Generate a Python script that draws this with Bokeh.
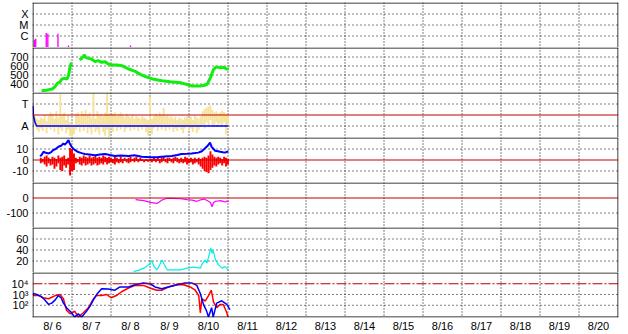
from bokeh.plotting import figure
from bokeh.layouts import column
from bokeh.models import Range1d, FixedTicker, Span
from bokeh.embed import file_html
from bokeh.resources import INLINE

nan = float("nan")

# ---------------- data (time = days since 8/6 00:00) ----------------
date_labels = ["8/ 6", "8/ 7", "8/ 8", "8/ 9", "8/10", "8/11", "8/12", "8/13",
               "8/14", "8/15", "8/16", "8/17", "8/18", "8/19", "8/20"]

# panel 1: X-ray flares
xray_ticks = [1e-6, 1e-5, 1e-4]
xray_labels = ["C", "M", "X"]
flare_t = [0.04, 0.07, 0.34, 0.38, 0.64, 0.91, 2.50]
flare_flux = [4.5e-7, 5.5e-7, 1.9e-6, 1.6e-6, 1.6e-6, 1.4e-7, 1.4e-7]

# panel 2: solar wind speed
speed_ticks = [400, 500, 600, 700]
speed_labels = ["400", "500", "600", "700"]
sp_t = [0.22, 0.35, 0.44, 0.50, 0.57, 0.63, 0.69, 0.74, 0.81, 0.87,
        0.91, 0.94, 0.97, 1.00, 1.10, 1.19, 1.25, 1.32, 1.35, 1.42,
        1.50, 1.59, 1.67, 1.76, 1.85, 1.93, 2.02, 2.15, 2.28, 2.45,
        2.62, 2.75, 2.90, 3.10, 3.30, 3.52, 3.78, 3.95, 4.08, 4.29,
        4.40, 4.46, 4.55, 4.60, 4.63, 4.70, 4.80, 4.90, 4.95, 5.02]
sp_v = [326, 330, 340, 345, 374, 411, 422, 455, 463, 455,
        492, 567, 622, 633, nan, 670, 685, 722, 696, 685,
        678, 648, 659, 641, 648, 622, 611, 611, 604, 567,
        541, 507, 480, 452, 437, 426, 415, 395, 378, 378,
        385, 396, 470, 530, 563, 590, 581, 585, 570, 563]

# panel 3: IMF direction (T / A)
phi_ticks = [90, 270]
phi_labels = ["A", "T"]
phi_t = [0.05, 0.10, 0.15, 0.20, 0.25, 0.30, 0.35, 0.40, 0.45, 0.50,
         0.55, 0.60, 0.65, 0.70, 0.75, 0.80, 0.85, 0.90, 0.95, 1.00,
         1.05, 1.10, 1.15, 1.20, 1.25, 1.30, 1.35, 1.40, 1.45, 1.50,
         1.55, 1.60, 1.65, 1.70, 1.75, 1.80, 1.85, 1.90, 1.95, 2.00,
         2.05, 2.10, 2.15, 2.20, 2.25, 2.30, 2.35, 2.40, 2.45, 2.50,
         2.55, 2.60, 2.65, 2.70, 2.75, 2.80, 2.85, 2.90, 2.95, 3.00,
         3.05, 3.10, 3.15, 3.20, 3.25, 3.30, 3.35, 3.40, 3.45, 3.50,
         3.55, 3.60, 3.65, 3.70, 3.75, 3.80, 3.85, 3.90, 3.95, 4.00,
         4.05, 4.10, 4.15, 4.20, 4.25, 4.30, 4.35, 4.40, 4.45, 4.50,
         4.55, 4.60, 4.65, 4.70, 4.75, 4.80, 4.85, 4.90, 4.95, 5.00]
phi_lo = [100, 60, 40, 70, 50, 90, 30, 80, 60, 100,
          40, 90, 20, 70, 50, 90, 30, 60, 10, 5,
          20, 60, 90, 40, 80, 50, 100, 30, 70, 20,
          90, 40, 60, 20, 80, 40, 10, 60, 0, 70,
          40, 90, 50, 80, 60, 100, 40, 70, 90, 50,
          80, 60, 90, 50, 80, 60, 90, 40, 10, 60,
          20, 70, 90, 50, 80, 60, 90, 50, 80, 60,
          90, 40, 70, 50, 80, 60, 30, 70, 90, 50,
          70, 40, 80, 30, 60, 90, 100, 70, 120, 90,
          140, 100, 80, 120, 100, 110, 90, 120, 20, 100]
phi_hi = [170, 150, 140, 160, 150, 180, 130, 175, 200, 190,
          150, 210, 160, 350, 170, 200, 140, 180, 120, 110,
          100, 190, 200, 170, 210, 190, 220, 180, 200, 160,
          360, 150, 210, 180, 190, 170, 200, 360, 190, 180,
          190, 200, 170, 185, 200, 180, 160, 190, 170, 160,
          180, 150, 170, 160, 150, 170, 160, 150, 140, 330,
          150, 170, 190, 175, 200, 180, 240, 170, 180, 160,
          170, 150, 165, 140, 160, 150, 140, 160, 170, 150,
          165, 140, 175, 160, 150, 170, 210, 230, 240, 250,
          260, 220, 200, 210, 190, 200, 215, 205, 190, 180]
dir_t = [0.00, 0.01, 0.05, 0.09, 5.00]
dir_v = [256, 176, 123, 90, 90]
sector_line = 180

# panel 4: Bt (blue) and Bz (red), nT
bfield_ticks = [-10, 0, 10]
bfield_labels = ["-10", "0", "10"]
bt_t = [0.18, 0.22, 0.27, 0.33, 0.40, 0.46, 0.52, 0.58, 0.65, 0.72,
        0.78, 0.82, 0.87, 0.91, 0.93, 0.95, 0.99, 1.04, 1.08, 1.14,
        1.21, 1.27, 1.33, 1.45, 1.59, 1.72, 1.85, 1.97, 2.10, 2.25,
        2.45, 2.60, 2.79, 2.90, 3.04, 3.17, 3.30, 3.45, 3.56, 3.70,
        3.81, 3.95, 4.07, 4.15, 4.24, 4.33, 4.41, 4.48, 4.54, 4.58,
        4.63, 4.67, 4.74, 4.80, 4.87, 4.93, 4.97, 5.01]
bt_v = [3.5, 4.5, 7.5, 6.5, 6, 7, 9, 10, 12, 13,
        15, 14, 16, 18, 16, 14.6, 12, 10, 9, 7.5,
        6.7, 6, 5.5, 5, 4.4, 5, 5.5, 4.5, 3.7, 4,
        3.7, 4.4, 3, 2.8, 2.4, 2.6, 3, 3.4, 3.7, 4.5,
        5.5, 5.7, 6, 6.3, 6.7, 8, 10.6, 13, 15.7, 12,
        10, 8.4, 8, 7.5, 7, 6.7, 7.5, 7.5]
bz_t = [0.20, 0.25, 0.30, 0.35, 0.40, 0.45, 0.50, 0.55, 0.60, 0.65,
        0.70, 0.75, 0.80, 0.85, 0.90, 0.95, 1.00, 1.05, 1.10, 1.15,
        1.20, 1.25, 1.30, 1.35, 1.40, 1.45, 1.50, 1.55, 1.60, 1.65,
        1.70, 1.75, 1.80, 1.85, 1.90, 1.95, 2.00, 2.05, 2.10, 2.15,
        2.20, 2.25, 2.30, 2.35, 2.40, 2.45, 2.50, 2.55, 2.60, 2.65,
        2.70, 2.75, 2.80, 2.85, 2.90, 2.95, 3.00, 3.05, 3.10, 3.15,
        3.20, 3.25, 3.30, 3.35, 3.40, 3.45, 3.50, 3.55, 3.60, 3.65,
        3.70, 3.75, 3.80, 3.85, 3.90, 3.95, 4.00, 4.05, 4.10, 4.15,
        4.20, 4.25, 4.30, 4.35, 4.40, 4.45, 4.50, 4.55, 4.60, 4.65,
        4.70, 4.75, 4.80, 4.85, 4.90, 4.95, 5.00]
bz_lo = [-3, -2, -4, -6, -3, -5, -4, -8, -6, -3,
         -9, -10, -5, -7, -4, -14, -10, -9, -3, -2,
         -4, -5, -3, -5, -4, -3, -5, -4, -3, -5,
         -4, -3, -4, -2, -4, -3, -2, -3, -4, -2,
         -3, -2, -3, -1, -2, -3, -2, -1, -2, -1,
         -2, -1, -1, -2, -1, -1.5, -1, -2, -1, -2,
         -1, -3, -2, -1, -2, -3, -1, -2, -3, -1,
         -2, -3, -2, -3, -2, -4, -3, -2, -4, -3,
         -2, -4, -6, -8, -10, -11, -12, -9, -7, -5,
         -6, -4, -3, -5, -3, -6, -4]
bz_hi = [2, 1, 3, 4, 2, 1, 3, 2, 1, 4,
         2, 3, 4, 1, 2, 11, 10, 6, 2, 1,
         3, 2, 4, 3, 2, 4, 2, 3, 4, 2,
         3, 2, 4, 3, 2, 3, 2, 1, 3, 2,
         1, 3, 1, 2, 1, 2, 3, 1, 2, 3,
         1, 2, 1, 0.5, 1, 0.5, 1, 1, 2, 1,
         2, 1, 2, 3, 1, 2, 2, 1, 2, 3,
         2, 1, 2, 1, 3, 2, 1, 2, 1, 2,
         1, 2, 1, 2, 3, 2, 4, 8, 5, 3,
         2, 3, 2, 1, 3, 2, 1]

# panel 5: Dst (nT)
dst_ticks = [-100, 0]
dst_labels = ["-100", "0"]
dst_t = [2.63, 2.84, 3.01, 3.18, 3.31, 3.44, 3.60, 3.78, 3.95, 4.08,
         4.20, 4.30, 4.38, 4.45, 4.50, 4.55, 4.59, 4.63, 4.68, 4.74,
         4.80, 4.87, 4.93, 4.97, 5.02]
dst_v = [-11, -18, -29, -36, -13, -2, -3, -5, -11, -14,
         -22, -12, -7, -15, -22, -30, -58, -30, -22, -20,
         -18, -22, -27, -20, -22]

# panel 6: cyan index
idx_ticks = [20, 40, 60]
idx_labels = ["20", "40", "60"]
idx_t = [2.58, 2.70, 2.84, 2.97, 3.05, 3.10, 3.18, 3.25, 3.31, 3.37,
         3.44, 3.60, 3.78, 3.95, 4.12, 4.29, 4.34, 4.42, 4.46, 4.53,
         4.56, 4.59, 4.62, 4.68, 4.76, 4.85, 4.93, 5.02]
idx_v = [1, 3, 7, 13, 21, 10, 4, 13, 22, 13,
         4, 4, 4, 7, 9, 7, 15, 22, 16, 35,
         44, 34, 39, 22, 13, 7, 10, 2]

# panel 7: electron flux (log)
flux_ticks = [1e2, 1e3, 1e4]
flux_labels = ["10\u00b2", "10\u00b3", "10\u2074"]
eb_t = [0.00, 0.10, 0.22, 0.30, 0.40, 0.48, 0.57, 0.65, 0.72, 0.78,
        0.86, 0.99, 1.07, 1.16, 1.25, 1.38, 1.46, 1.55, 1.63, 1.76,
        1.93, 2.10, 2.23, 2.45, 2.62, 2.83, 3.00, 3.13, 3.30, 3.47,
        3.69, 3.90, 4.07, 4.20, 4.29, 4.37, 4.45, 4.50, 4.58, 4.62,
        4.71, 4.84, 4.97, 5.05]
eb_v = [1260, 1000, 630, 320, 120, 160, 320, 800, 500, 160,
        60, 20, 8, 16, 8, 30, 80, 320, 1000, 3500,
        3200, 2500, 5000, 5000, 8000, 12000, 10000, 5000, 3500, 5000,
        8000, 12000, 12000, 7000, 1260, 120, 30, 8, 60, 8,
        160, 260, 120, 40]
er_t = [0.00, 0.15, 0.25, 0.40, 0.57, 0.69, 0.78, 0.86, 0.95, 1.07,
        1.16, 1.29, 1.42, 1.55, 1.63, 1.76, 1.89, 2.00, 2.14, 2.27,
        2.45, 2.62, 2.83, 3.00, 3.17, 3.30, 3.47, 3.69, 3.86, 4.03,
        4.16, 4.25, 4.29, 4.33, 4.42, 4.50, 4.57, 4.63, 4.71, 4.80,
        4.88, 4.97, 5.00]
er_v = [800, 800, 500, 400, 800, 1000, 400, 34, 16, 28,
        8, 20, 60, 400, 800, 800, 1000, 500, 800, 1800,
        4000, 7000, 7000, 4000, 2500, 2500, 5000, 8000, 8000, 5000,
        2500, 800, 20, 400, 250, 800, 2500, 200, 60, 120,
        120, 20, 8]
flux_alert = 1e4

# ---------------- layout ----------------
FONT = "Liberation Sans"
W = 628
LEFT, RIGHT = 32, 10
NDAYS = len(date_labels)
DAY_PX = 39.0
DARKRED = "#C00000"
pad = 0.5 / DAY_PX
x_range = Range1d(-pad, NDAYS + pad)


def hline(p, loc, color="black", dash="solid", level="annotation"):
    p.add_layout(Span(location=loc, dimension="width", line_color=color,
                      line_width=1, line_dash=dash, level=level))


def vline(p, loc, color="black", dash="solid", level="annotation"):
    p.add_layout(Span(location=loc, dimension="height", line_color=color,
                      line_width=1, line_dash=dash, level=level))


def panel(H, v_top, ppu, ticks, labels, grid_ticks, log=False,
          top=0, bottom=0, xaxis=False, bottom_border=False):
    # v_top: value on the panel's top border; ppu: pixels per unit (per decade if log)
    if log:
        yr = Range1d(10 ** (v_top - (H - 0.5) / ppu), 10 ** (v_top + 0.5 / ppu))
    else:
        yr = Range1d(v_top - (H - 0.5) / ppu, v_top + 0.5 / ppu)
    p = figure(width=W, height=H + top + bottom, x_range=x_range, y_range=yr,
               y_axis_type="log" if log else "linear",
               output_backend="svg", toolbar_location=None,
               min_border_left=LEFT, min_border_right=RIGHT,
               min_border_top=top, min_border_bottom=bottom,
               x_axis_location="below" if xaxis else None)
    p.outline_line_color = None
    p.xgrid.grid_line_color = None
    p.ygrid.grid_line_color = None
    ax = p.yaxis[0]
    ax.ticker = FixedTicker(ticks=ticks)
    ax.major_label_overrides = dict(zip(ticks, labels))
    ax.axis_line_color = None
    ax.major_tick_line_color = None
    ax.minor_tick_line_color = None
    ax.major_tick_out = 0
    ax.major_tick_in = 0
    ax.major_label_standoff = 4
    ax.major_label_text_font = FONT
    ax.major_label_text_font_size = "11px"
    ax.major_label_text_color = "black"
    # dotted grid, drawn beneath the data
    for g in grid_ticks:
        hline(p, g, dash="1 3", level="underlay")
    for d in range(1, NDAYS):
        vline(p, d, dash="1 2", level="underlay")
    # frame borders
    hline(p, 10 ** v_top if log else v_top)
    vline(p, 0)
    vline(p, NDAYS)
    if bottom_border:
        vb = v_top - (H - 1) / ppu
        hline(p, 10 ** vb if log else vb)
    if xaxis:
        xa = p.xaxis[0]
        pos = [i + 0.5 for i in range(NDAYS)]
        xa.ticker = FixedTicker(ticks=pos)
        xa.major_label_overrides = dict(zip(pos, date_labels))
        xa.axis_line_color = None
        xa.major_tick_line_color = None
        xa.minor_tick_line_color = None
        xa.major_tick_out = 0
        xa.major_tick_in = 0
        xa.major_label_standoff = 2
        xa.major_label_text_font = FONT
        xa.major_label_text_font_size = "11px"
        xa.major_label_text_color = "black"
    return p


# 1 X-ray
p1 = panel(45, -3, 11, xray_ticks, xray_labels, xray_ticks, log=True, top=2)
p1.vbar(x=flare_t, top=flare_flux, bottom=1e-8, width=0.035,
        color="#FF00FF", line_width=0)

# 2 speed
p2 = panel(45, 800, 0.09, speed_ticks, speed_labels, speed_ticks)
p2.line(sp_t, sp_v, color="#10EE10", line_width=3)

# 3 direction
p3 = panel(45, 360, 11 / 90, phi_ticks, phi_labels, phi_ticks)
p3.vbar(x=phi_t, bottom=phi_lo, top=phi_hi, width=0.05,
        color="#F6E29A", line_width=0)
hline(p3, sector_line, color=DARKRED)
p3.line(dir_t, dir_v, color="#0000FF", line_width=1.5)

# 4 magnetic field
p4 = panel(45, 20, 1.1, bfield_ticks, bfield_labels, [-10, 10])
p4.vbar(x=bz_t, bottom=bz_lo, top=bz_hi, width=0.05, color="#FF0000",
        line_width=0)
p4.line(bt_t, bt_v, color="#0000FF", line_width=2)
hline(p4, 0, color=DARKRED)

# 5 Dst
p5 = panel(45, 100, 0.15, dst_ticks, dst_labels, [-100])
hline(p5, 0, color=DARKRED)
p5.line(dst_t, dst_v, color="#FF00FF", line_width=1.2)

# 6 index
p6 = panel(45, 80, 0.55, idx_ticks, idx_labels, idx_ticks)
p6.line(idx_t, idx_v, color="#00EEEE", line_width=1.2)

# 7 electrons
p7 = panel(46, 5, 11, flux_ticks, flux_labels, [1e2, 1e3], log=True,
           bottom=16, xaxis=True, bottom_border=True)
hline(p7, flux_alert, color="#B00000", dash="10 2 2 2")
p7.line(er_t, er_v, color="#FF0000", line_width=1.5)
p7.line(eb_t, eb_v, color="#0000FF", line_width=1.5)

layout = column(p1, p2, p3, p4, p5, p6, p7, spacing=0)
open("out.html", "w").write(file_html(layout, INLINE))
